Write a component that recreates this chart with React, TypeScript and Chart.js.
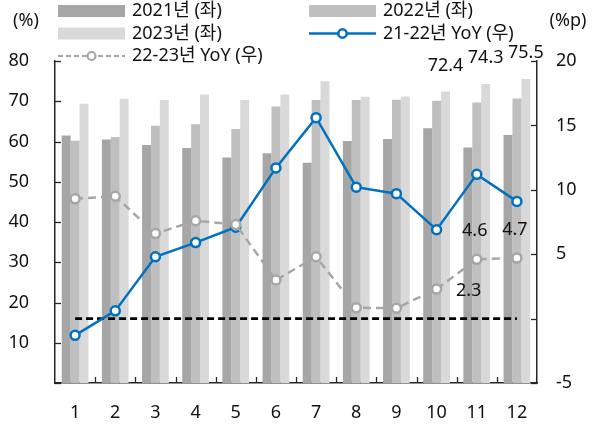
import React, { useEffect, useRef } from "react";
import { Chart, registerables } from "chart.js";

Chart.register(...registerables);

const months = ["1", "2", "3", "4", "5", "6", "7", "8", "9", "10", "11", "12"];
const y2021 = [61.5, 60.5, 59.1, 58.4, 56.0, 57.1, 54.7, 60.1, 60.6, 63.3, 58.5, 61.6];
const y2022 = [60.2, 61.1, 63.9, 64.3, 63.1, 68.7, 70.3, 70.3, 70.4, 70.1, 69.7, 70.7];
const y2023 = [69.4, 70.6, 70.3, 71.7, 70.3, 71.7, 75.0, 71.1, 71.2, 72.4, 74.3, 75.5];
const yoy2122 = [-1.3, 0.6, 4.8, 5.9, 7.1, 11.7, 15.6, 10.2, 9.7, 6.9, 11.2, 9.1];
const yoy2223 = [9.3, 9.5, 6.6, 7.6, 7.3, 3.0, 4.8, 0.85, 0.8, 2.3, 4.6, 4.7];
const baseline = [0, 0, 0, 0, 0, 0, 0, 0, 0, 0, 0, 0];
const bar2023Labels = [null, null, null, null, null, null, null, null, null, "72.4", "74.3", "75.5"];
const yoy2223Labels = [null, null, null, null, null, null, null, null, null, "2.3", "4.6", "4.7"];

const FONT = "'Noto Sans', 'Noto Sans CJK KR', sans-serif";
const FS = 18;
const TXT = "#111";
const AXIS = "#262626";
const C2021 = "#a6a6a6";
const C2022 = "#bfbfbf";
const C2023 = "#d9d9d9";
const BLUE = "#0070c0";
const GRAY = "#a6a6a6";

const decorPlugin = {
  id: "decor",
  afterDatasetsDraw(chart: any) {
    const ctx = chart.ctx as CanvasRenderingContext2D;
    const x = chart.scales.x;
    const y = chart.scales.y;
    const y2 = chart.scales.y2;
    const area = chart.chartArea;
    ctx.save();
    ctx.strokeStyle = AXIS;
    ctx.lineWidth = 1.3;
    ctx.setLineDash([]);
    y.ticks.forEach((t: any) => {
      const py = Math.round(y.getPixelForValue(t.value)) + 0.5;
      ctx.beginPath();
      ctx.moveTo(area.left, py);
      ctx.lineTo(area.left + 6, py);
      ctx.stroke();
    });
    y2.ticks.forEach((t: any) => {
      const py = Math.round(y2.getPixelForValue(t.value)) + 0.5;
      ctx.beginPath();
      ctx.moveTo(area.right, py);
      ctx.lineTo(area.right - 6, py);
      ctx.stroke();
    });
    for (let i = 1; i < months.length; i++) {
      const px = Math.round((x.getPixelForValue(i - 1) + x.getPixelForValue(i)) / 2) + 0.5;
      ctx.beginPath();
      ctx.moveTo(px, area.bottom);
      ctx.lineTo(px, area.bottom - 6);
      ctx.stroke();
    }
    ctx.restore();
  },
  afterDraw(chart: any) {
    const ctx = chart.ctx as CanvasRenderingContext2D;
    ctx.save();
    ctx.font = `${FS}px ${FONT}`;
    ctx.fillStyle = TXT;
    ctx.textBaseline = "middle";

    ctx.textAlign = "center";
    const m2023 = chart.getDatasetMeta(2);
    bar2023Labels.forEach((lab, i) => {
      if (!lab) return;
      const el = m2023.data[i];
      ctx.fillText(lab, el.x, el.y - 26);
    });
    const mg = chart.getDatasetMeta(5);
    yoy2223Labels.forEach((lab, i) => {
      if (!lab) return;
      const el = mg.data[i];
      if (i === 9) {
        ctx.fillText(lab, el.x + 32, el.y + 2);
      } else {
        ctx.fillText(lab, el.x - 2, el.y - 28);
      }
    });

    ctx.fillText("(%)", 26, 21);
    ctx.fillText("(%p)", 568, 21);

    ctx.textAlign = "left";
    const col1 = 58;
    const col2 = 309;
    const w = 67;
    const rows = [11, 33.5, 56];
    const boxes: [number, number, string, string][] = [
      [col1, rows[0], C2021, "2021년 (좌)"],
      [col2, rows[0], C2022, "2022년 (좌)"],
      [col1, rows[1], C2023, "2023년 (좌)"],
    ];
    boxes.forEach(([bx, by, c, t]) => {
      ctx.fillStyle = c;
      ctx.fillRect(bx, by - 6, w, 12);
      ctx.fillStyle = TXT;
      ctx.fillText(t, bx + w + 7, by);
    });
    ctx.strokeStyle = BLUE;
    ctx.lineWidth = 2.5;
    ctx.beginPath();
    ctx.moveTo(col2, rows[1]);
    ctx.lineTo(col2 + w, rows[1]);
    ctx.stroke();
    ctx.beginPath();
    ctx.arc(col2 + w / 2, rows[1], 4.2, 0, Math.PI * 2);
    ctx.fillStyle = "#fff";
    ctx.fill();
    ctx.stroke();
    ctx.fillStyle = TXT;
    ctx.fillText("21-22년 YoY (우)", col2 + w + 7, rows[1]);
    ctx.strokeStyle = GRAY;
    ctx.lineWidth = 2;
    ctx.setLineDash([5, 3]);
    ctx.beginPath();
    ctx.moveTo(col1, rows[2]);
    ctx.lineTo(col1 + w, rows[2]);
    ctx.stroke();
    ctx.setLineDash([]);
    ctx.lineWidth = 2.2;
    ctx.beginPath();
    ctx.arc(col1 + w / 2, rows[2], 4, 0, Math.PI * 2);
    ctx.fillStyle = "#fff";
    ctx.fill();
    ctx.stroke();
    ctx.fillStyle = TXT;
    ctx.fillText("22-23년 YoY (우)", col1 + w + 7, rows[2]);
    ctx.restore();
  },
};

export default function App() {
  const ref = useRef<HTMLCanvasElement>(null);
  useEffect(() => {
    document.body.style.margin = "0";
    const canvas = ref.current!;
    const tickFont = { family: FONT, size: FS };
    const chart = new Chart(canvas, {
      type: "bar",
      data: {
        labels: months,
        datasets: [
          { type: "bar", label: "2021년 (좌)", data: y2021, backgroundColor: C2021, yAxisID: "y", order: 10, barPercentage: 1, categoryPercentage: 0.665 },
          { type: "bar", label: "2022년 (좌)", data: y2022, backgroundColor: C2022, yAxisID: "y", order: 10, barPercentage: 1, categoryPercentage: 0.665 },
          { type: "bar", label: "2023년 (좌)", data: y2023, backgroundColor: C2023, yAxisID: "y", order: 10, barPercentage: 1, categoryPercentage: 0.665 },
          { type: "line", label: "기준선", data: baseline, yAxisID: "y2", borderColor: "#000", borderWidth: 2.6, borderDash: [7, 4], pointRadius: 0, order: 3 },
          { type: "line", label: "21-22년 YoY (우)", data: yoy2122, yAxisID: "y2", borderColor: BLUE, borderWidth: 2.5, pointRadius: 4.5, pointBackgroundColor: "#fff", pointBorderColor: BLUE, pointBorderWidth: 2.5, order: 2 },
          { type: "line", label: "22-23년 YoY (우)", data: yoy2223, yAxisID: "y2", borderColor: GRAY, borderWidth: 2.5, borderDash: [8, 5], pointRadius: 4.5, pointBackgroundColor: "#fff", pointBorderColor: GRAY, pointBorderWidth: 2.5, order: 1 },
        ] as any,
      },
      options: {
        responsive: false,
        animation: false,
        layout: { padding: { top: 61, left: 0, right: 0, bottom: 0 } },
        plugins: { legend: { display: false }, tooltip: { enabled: false } },
        scales: {
          x: {
            grid: { display: false, drawTicks: false },
            border: { display: true, color: AXIS, width: 1.5 },
            ticks: { color: TXT, font: tickFont, padding: 19 },
            afterFit: (s: any) => { s.height = 51; },
          },
          y: {
            position: "left",
            min: 0,
            max: 80,
            grid: { display: false, drawTicks: false },
            border: { display: true, color: AXIS, width: 1.5 },
            ticks: {
              stepSize: 10,
              color: TXT,
              font: tickFont,
              padding: 26,
              callback: (v: any) => (v === 0 ? "" : String(v)),
            },
            afterFit: (s: any) => { s.width = 55; },
          },
          y2: {
            position: "right",
            min: -5,
            max: 20,
            grid: { display: false, drawTicks: false },
            border: { display: true, color: AXIS, width: 1.5 },
            ticks: {
              stepSize: 5,
              color: TXT,
              font: tickFont,
              padding: 19,
              callback: (v: any) => (v === 0 ? "" : String(v)),
            },
            afterFit: (s: any) => { s.width = 61; },
          },
        },
      } as any,
      plugins: [decorPlugin],
    });
    return () => chart.destroy();
  }, []);
  return (
    <div style={{ position: "absolute", left: 0, top: 0, width: 598, height: 434, background: "#fff" }}>
      <canvas ref={ref} width={598} height={434} style={{ display: "block" }} />
    </div>
  );
}
